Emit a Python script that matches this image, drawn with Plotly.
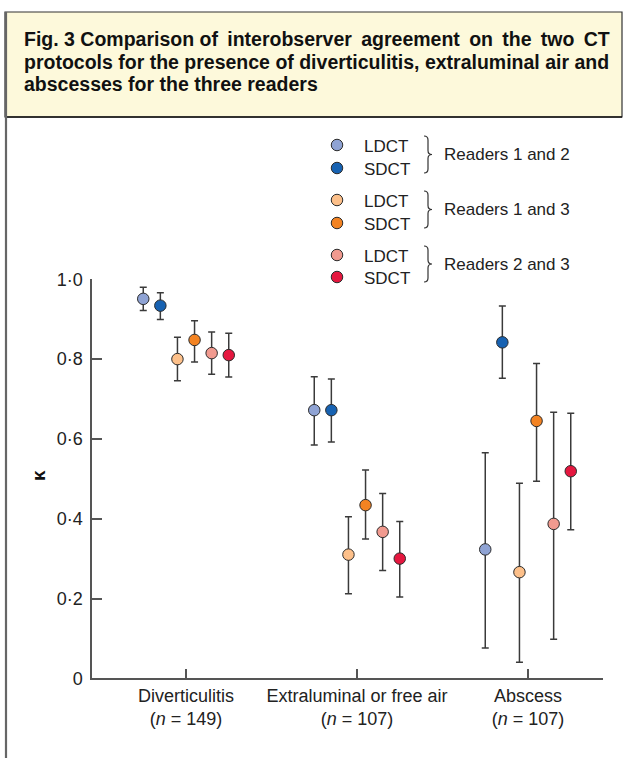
import plotly.graph_objects as go

# ---------------- data ----------------
categories = ["Diverticulitis", "Extraluminal or free air", "Abscess"]
n_values = [149, 107, 107]
y_ticks = [0, 0.2, 0.4, 0.6, 0.8, 1.0]
y_tick_labels = ["0", "0·2", "0·4", "0·6", "0·8", "1·0"]

series_names = ["LDCT", "SDCT", "LDCT", "SDCT", "LDCT", "SDCT"]
group_names = ["Readers 1 and 2", "Readers 1 and 3", "Readers 2 and 3"]

# kappa estimates and 95% CI (lower, upper) per series, per category
ldct_12 = [0.951, 0.672, 0.323]
ldct_12_lo = [0.922, 0.585, 0.076]
ldct_12_hi = [0.980, 0.756, 0.565]

sdct_12 = [0.934, 0.672, 0.842]
sdct_12_lo = [0.899, 0.592, 0.752]
sdct_12_hi = [0.966, 0.750, 0.933]

ldct_13 = [0.800, 0.310, 0.266]
ldct_13_lo = [0.746, 0.212, 0.040]
ldct_13_hi = [0.855, 0.405, 0.489]

sdct_13 = [0.848, 0.434, 0.645]
sdct_13_lo = [0.793, 0.349, 0.494]
sdct_13_hi = [0.896, 0.522, 0.789]

ldct_23 = [0.815, 0.367, 0.387]
ldct_23_lo = [0.762, 0.270, 0.098]
ldct_23_hi = [0.868, 0.463, 0.667]

sdct_23 = [0.810, 0.300, 0.519]
sdct_23_lo = [0.755, 0.204, 0.372]
sdct_23_hi = [0.865, 0.393, 0.664]

series = [
    (ldct_12, ldct_12_lo, ldct_12_hi),
    (sdct_12, sdct_12_lo, sdct_12_hi),
    (ldct_13, ldct_13_lo, ldct_13_hi),
    (sdct_13, sdct_13_lo, sdct_13_hi),
    (ldct_23, ldct_23_lo, ldct_23_hi),
    (sdct_23, sdct_23_lo, sdct_23_hi),
]

# ---------------- style ----------------
colors = ["#8fa3d4", "#1762b2", "#fdc08a", "#f38322", "#f19a8f", "#e5173f"]
W, H = 623, 758
FONT = "Liberation Sans, Arial, Helvetica, sans-serif"
axis_col = "#555555"
err_col = "#3a3a3a"
offset_step = 0.1

fig = go.Figure()

# main data traces
for i, (vals, lo, hi) in enumerate(series):
    xs = [k + 1 + (i - 2.5) * offset_step for k in range(len(categories))]
    fig.add_trace(go.Scatter(
        x=xs, y=vals, mode="markers",
        marker=dict(size=11.5, color=colors[i], line=dict(color="#2b2b2b", width=1)),
        error_y=dict(type="data", symmetric=False,
                     array=[h - v for h, v in zip(hi, vals)],
                     arrayminus=[v - l for v, l in zip(vals, lo)],
                     color=err_col, thickness=1.5, width=3.5),
        cliponaxis=False, showlegend=False, xaxis="x", yaxis="y",
    ))

# legend markers on a pixel-space overlay axis
leg_x = 337
leg_y = [145, 168, 200, 223, 255, 277]
fig.add_trace(go.Scatter(
    x=[leg_x] * 6, y=leg_y, mode="markers",
    marker=dict(size=11.5, color=colors, line=dict(color="#2b2b2b", width=1)),
    showlegend=False, xaxis="x2", yaxis="y2", cliponaxis=False, hoverinfo="skip",
))

annotations = []
shapes = []

for i, name in enumerate(series_names):
    annotations.append(dict(x=362, y=leg_y[i] + 1, xref="x2", yref="y2", text=name,
                            showarrow=False, xanchor="left", yanchor="middle",
                            font=dict(family=FONT, size=17, color="#222")))

for g, gname in enumerate(group_names):
    y0, y1 = leg_y[2 * g] - 9, leg_y[2 * g + 1] + 5
    ym = (y0 + y1) / 2
    x0 = 424
    path = (f"M {x0},{y0} Q {x0+4},{y0} {x0+4},{y0+4} L {x0+4},{ym-4} "
            f"Q {x0+4},{ym} {x0+8},{ym} Q {x0+4},{ym} {x0+4},{ym+4} "
            f"L {x0+4},{y1-4} Q {x0+4},{y1} {x0},{y1}")
    shapes.append(dict(type="path", path=path, xref="x2", yref="y2",
                       line=dict(color="#333", width=1.2)))
    annotations.append(dict(x=442, y=ym, xref="x2", yref="y2", text=gname,
                            showarrow=False, xanchor="left", yanchor="middle",
                            font=dict(family=FONT, size=17, color="#222")))

# title box
shapes.append(dict(type="rect", x0=5, x1=622, y0=12, y1=117, xref="x2", yref="y2",
                   fillcolor="#fdf9db", line=dict(color="#333", width=1.2), layer="below"))
shapes.append(dict(type="line", x0=5, x1=622, y0=117, y1=117, xref="x2", yref="y2",
                   line=dict(color="#111", width=1.6)))
# left frame line
shapes.append(dict(type="line", x0=6, x1=6, y0=12, y1=758, xref="x2", yref="y2",
                   line=dict(color="#666", width=2.2)))

title_lines = [
    "Fig. 3 Comparison of\u2009 interobserver\u2009 agreement\u2009 on\u2009 the\u2009 two\u2009 CT",
    "protocols for the presence of diverticulitis, extraluminal air and",
    "abscesses for the three readers",
]
title_y = [39, 61.5, 84]
for t, ty in zip(title_lines, title_y):
    annotations.append(dict(x=22, y=ty, xref="x2", yref="y2", text=f"<b>{t}</b>",
                            showarrow=False, xanchor="left", yanchor="middle",
                            font=dict(family=FONT, size=19.5, color="#111")))

# y-axis label
annotations.append(dict(x=38, y=476, xref="x2", yref="y2", text="<b>κ</b>",
                        showarrow=False, textangle=-90, xanchor="center", yanchor="middle",
                        font=dict(family=FONT, size=19, color="#111")))

cat_text = [f"{c}<br>(<i>n</i> = {n})" for c, n in zip(categories, n_values)]

x_left, x_right = 92, 603
y_bot, y_top = 678.3, 279.3

fig.update_layout(
    width=W, height=H, template="none",
    margin=dict(l=0, r=0, t=0, b=0, pad=0),
    paper_bgcolor="white", plot_bgcolor="rgba(0,0,0,0)",
    font=dict(family=FONT, color="#222"),
    showlegend=False,
    xaxis=dict(domain=[x_left / W, x_right / W], range=[0.4503, 3.4386],
               tickmode="array", tickvals=[1, 2, 3], ticktext=cat_text,
               ticks="inside", ticklen=10, tickwidth=1.5, tickcolor=axis_col,
               showline=True, linecolor=axis_col, linewidth=1.5,
               showgrid=False, zeroline=False, automargin=False,
               tickfont=dict(family=FONT, size=18, color="#222"), anchor="y"),
    yaxis=dict(domain=[(H - y_bot) / H, (H - y_top) / H], range=[0, 1],
               tickmode="array", tickvals=y_ticks, ticktext=y_tick_labels,
               ticks="inside", ticklen=10, tickwidth=1.5, tickcolor=axis_col,
               showline=True, linecolor=axis_col, linewidth=1.5,
               showgrid=False, zeroline=False, automargin=False,
               tickfont=dict(family=FONT, size=18, color="#222"), anchor="x",
               ticklabelstandoff=4),
    xaxis2=dict(domain=[0, 1], range=[0, W], visible=False, anchor="y2", fixedrange=True),
    yaxis2=dict(domain=[0, 1], range=[H, 0], visible=False, anchor="x2", fixedrange=True),
    annotations=annotations,
    shapes=shapes,
)

fig.write_html("out.html", config={"displayModeBar": False},
               post_script="document.body.style.margin='0';")
